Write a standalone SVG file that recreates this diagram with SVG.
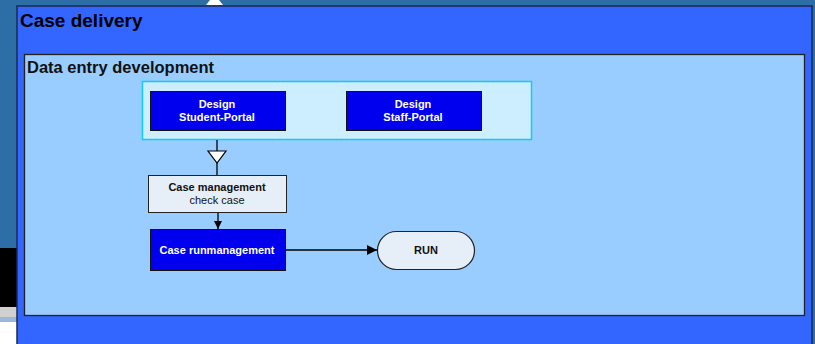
<svg xmlns="http://www.w3.org/2000/svg" width="815" height="344" viewBox="0 0 815 344">
<defs>
<style>
text{font-family:"Liberation Sans",Arial,sans-serif;font-weight:bold}
.blue rect{fill:#0000ee;stroke:#111;stroke-width:1}
.blue text{fill:#fff;font-size:11px;text-anchor:middle}
.dark{fill:#111;font-size:11px;text-anchor:middle}
.conn{stroke:#000;stroke-width:1.3;fill:none}
</style>
<marker id="arr" viewBox="0 0 10 10" refX="10" refY="5" markerWidth="8" markerHeight="8" markerUnits="userSpaceOnUse" orient="auto"><path d="M0,0 L10,5 L0,10 Z" fill="#000"/></marker>
<marker id="arrR" viewBox="0 0 10 10" refX="10" refY="5" markerWidth="10" markerHeight="10" markerUnits="userSpaceOnUse" orient="auto"><path d="M0,0 L10,5 L0,10 Z" fill="#000"/></marker>
</defs>
<rect x="0" y="0" width="815" height="344" fill="#2e6ea6"/>
<rect x="0" y="248" width="17" height="59" fill="#000"/>
<rect x="0" y="307" width="17" height="10" fill="#d0d0d0"/>
<rect x="0" y="317" width="17" height="5" fill="#9bb8d8"/>
<rect x="0" y="322" width="17" height="22" fill="#fff"/>
<polygon points="210,0 219,0 223,5 206,5" fill="#fff"/>
<g id="case-delivery">
<rect x="17" y="6" width="795" height="345" fill="#3366ff" stroke="#1a2a50" stroke-width="1.5"/>
<text x="20" y="27" font-size="19" fill="#000">Case delivery</text>
</g>
<g id="data-entry">
<rect x="24.5" y="54.5" width="780" height="261" fill="#99ccff" stroke="#222" stroke-width="1.3"/>
<text x="27" y="73" font-size="16.5" fill="#111">Data entry development</text>
</g>
<g id="design-group">
<rect x="142.5" y="81.5" width="389" height="58" fill="#cceeff" stroke="#11ccee" stroke-width="1.5"/>
</g>
<g id="connectors">
<line class="conn" x1="217" y1="140" x2="217" y2="175"/>
<polygon points="208,151 226,151 217,163" fill="#fff" stroke="#000" stroke-width="1.2"/>
<line class="conn" x1="218" y1="212" x2="218" y2="229" marker-end="url(#arr)"/>
<line class="conn" x1="286" y1="250" x2="377" y2="250" marker-end="url(#arrR)"/>
</g>
<g id="design-student" class="blue">
<rect x="150.5" y="91.5" width="135" height="39"/>
<text x="217" y="108">Design</text>
<text x="217" y="121">Student-Portal</text>
</g>
<g id="design-staff" class="blue">
<rect x="346.5" y="91.5" width="135" height="39"/>
<text x="413" y="108">Design</text>
<text x="413" y="121">Staff-Portal</text>
</g>
<g id="case-management">
<rect x="148.5" y="175.5" width="138" height="37" fill="#e6eef8" stroke="#222" stroke-width="1"/>
<text x="217" y="191" class="dark">Case management</text>
<text x="217" y="204" class="dark" style="font-weight:normal">check case</text>
</g>
<g id="case-runmanagement" class="blue">
<rect x="150.5" y="229.5" width="135" height="41"/>
<text x="217" y="254">Case runmanagement</text>
</g>
<g id="run">
<rect x="377.5" y="231.5" width="97" height="38" rx="19" ry="19" fill="#e6eef8" stroke="#222" stroke-width="1.2"/>
<text x="426" y="254" class="dark">RUN</text>
</g>
</svg>
